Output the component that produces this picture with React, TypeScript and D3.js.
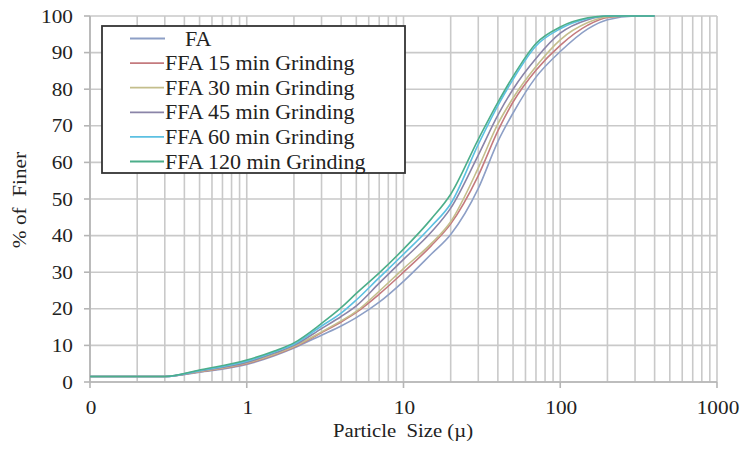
import React from 'react';
import * as d3 from 'd3';

const sizes = [0.1, 0.3, 0.5, 1, 1.5, 2, 3, 4, 5, 7, 10, 15, 20, 30, 40, 50, 70, 100, 150, 200, 300, 400];

const seriesNames = [
  'FA',
  'FFA 15 min Grinding',
  'FFA 30 min Grinding',
  'FFA 45 min Grinding',
  'FFA 60 min Grinding',
  'FFA 120 min Grinding',
];

const faValues = [1.5, 1.5, 2.7, 4.8, 7.2, 9.3, 12.8, 15.3, 17.6, 21.8, 27.5, 34.9, 40.3, 52.9, 65.7, 73.5, 83.3, 90.3, 96.5, 99.0, 100, 100];
const ffa15Values = [1.5, 1.5, 2.8, 5.0, 7.4, 9.5, 13.5, 16.4, 19.0, 24.0, 30.0, 37.2, 43.2, 56.4, 68.6, 76.5, 85.2, 92.0, 97.5, 99.6, 100, 100];
const ffa30Values = [1.5, 1.5, 2.9, 5.2, 7.6, 9.7, 13.7, 16.7, 19.3, 24.8, 31.0, 37.8, 43.8, 58.5, 70.5, 77.6, 86.2, 93.5, 98.2, 99.8, 100, 100];
const ffa45Values = [1.5, 1.5, 3.0, 5.4, 7.9, 10.0, 14.6, 17.9, 20.8, 27.0, 33.5, 40.9, 47.5, 62.0, 72.9, 80.0, 88.4, 95.3, 99.0, 100, 100, 100];
const ffa60Values = [1.5, 1.5, 3.1, 5.7, 8.2, 10.3, 15.3, 18.8, 22.4, 28.5, 34.9, 42.5, 48.7, 64.9, 75.5, 82.7, 91.8, 96.5, 99.3, 100, 100, 100];
const ffa120Values = [1.5, 1.5, 3.3, 6.0, 8.5, 10.7, 16.0, 20.3, 24.2, 29.8, 36.3, 44.5, 51.3, 66.3, 76.4, 83.5, 92.5, 97.0, 99.5, 100, 100, 100];

const seriesValues = [faValues, ffa15Values, ffa30Values, ffa45Values, ffa60Values, ffa120Values];
const seriesColors = ['#8d9fc6', '#c47a7e', '#c4be8c', '#8a84a8', '#5cc0e2', '#4cae8a'];

const xTickValues = [0.1, 1, 10, 100, 1000];
const xTickLabels = ['0', '1', '10', '100', '1000'];
const yTickValues = [0, 10, 20, 30, 40, 50, 60, 70, 80, 90, 100];

const W = 741;
const H = 452;
const FONT = '"Liberation Serif", "Times New Roman", serif';

function T({ x, y, size, anchor = 'start', sx = 1.12, rotate = 0, children }: any) {
  return (
    <text
      transform={`translate(${x},${y}) rotate(${rotate}) scale(${sx},1)`}
      fontFamily={FONT}
      fontSize={size}
      textAnchor={anchor}
      fill="#222"
      style={{ whiteSpace: 'pre' }}
    >
      {children}
    </text>
  );
}

export default function App() {
  const x = d3.scaleLog().domain([0.1, 1000]).range([90, 717]);
  const y = d3.scaleLinear().domain([0, 100]).range([382, 16]);

  const minor: number[] = [];
  for (let e = -1; e < 3; e++) {
    for (let m = 1; m < 10; m++) minor.push(m * Math.pow(10, e));
  }
  minor.push(1000);

  const line = d3
    .line<number>()
    .x((_, i) => x(sizes[i]))
    .y((v) => y(v))
    .curve(d3.curveMonotoneX);

  const gridColor = '#c9c9c9';

  const legendX = 102;
  const legendY = 26;
  const legendW = 303;
  const legendH = 147;
  const rowY = (i: number) => 38.5 + i * 24.6;

  return (
    <svg width={W} height={H} style={{ position: 'absolute', left: 0, top: 0, background: '#fff' }}>
      <rect x={0} y={0} width={W} height={H} fill="#fff" />
      {minor.map((v, i) => (
        <line key={'v' + i} x1={x(v)} x2={x(v)} y1={y(100)} y2={y(0)} stroke={gridColor} strokeWidth={1.6} />
      ))}
      {yTickValues.map((v) => (
        <line key={'h' + v} x1={x(0.1)} x2={x(1000)} y1={y(v)} y2={y(v)} stroke={gridColor} strokeWidth={1.6} />
      ))}
      <line x1={x(0.1)} x2={x(0.1)} y1={y(100)} y2={y(0)} stroke="#b5b5b5" strokeWidth={1.6} />
      <line x1={x(0.1)} x2={x(1000)} y1={y(0)} y2={y(0)} stroke="#b5b5b5" strokeWidth={1.6} />
      {yTickValues.map((v) => (
        <line key={'yt' + v} x1={x(0.1) - 6} x2={x(0.1)} y1={y(v)} y2={y(v)} stroke="#b5b5b5" strokeWidth={1.6} />
      ))}
      {xTickValues.map((v) => (
        <line key={'xt' + v} x1={x(v)} x2={x(v)} y1={y(0)} y2={y(0) + 6} stroke="#b5b5b5" strokeWidth={1.6} />
      ))}
      {yTickValues.map((v) => (
        <T key={'yl' + v} x={73} y={y(v) + 6.5} size={19} anchor="end">
          {String(v)}
        </T>
      ))}
      {xTickValues.map((v, i) => (
        <T key={'xl' + v} x={x(v) + 1} y={414} size={19} anchor="middle">
          {xTickLabels[i]}
        </T>
      ))}
      <T x={403} y={437} size={18.5} anchor="middle">
        {'Particle  Size (\u00b5)'}
      </T>
      <T x={26} y={200} size={19} anchor="middle" rotate={-90} sx={1.12}>
        {'% of  Finer'}
      </T>
      {seriesValues.map((vals, i) => (
        <path key={'s' + i} d={line(vals) || ''} fill="none" stroke={seriesColors[i]} strokeWidth={1.6} />
      ))}
      <rect x={legendX} y={legendY} width={legendW} height={legendH} fill="#fff" stroke="#333" strokeWidth={1.8} />
      {seriesNames.map((name, i) => (
        <g key={'lg' + i}>
          <line x1={130} x2={i === 0 ? 165 : 164} y1={rowY(i)} y2={rowY(i)} stroke={seriesColors[i]} strokeWidth={1.8} />
          <T x={i === 0 ? 185 : 165} y={rowY(i) + 7} size={20} sx={1.1}>
            {name}
          </T>
        </g>
      ))}
    </svg>
  );
}
